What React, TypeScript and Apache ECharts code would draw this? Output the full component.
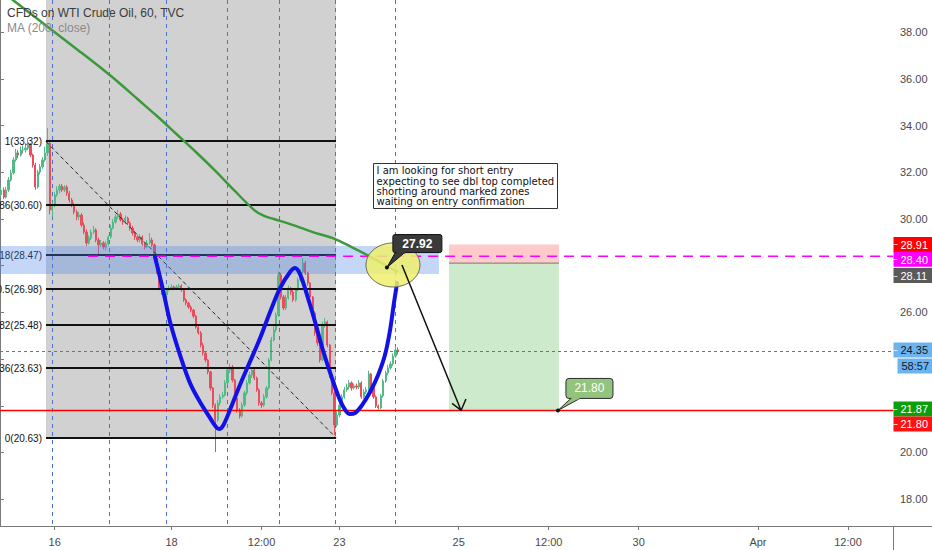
import React, { useEffect, useRef } from 'react';
import * as echarts from 'echarts';

// ---------- axes ----------
const N_SLOTS = 367;
const xLabelIndex = [22, 70, 107, 139, 188, 225, 262, 311, 348];
const xLabelText = ['16', '18', '12:00', '23', '25', '12:00', '30', 'Apr', '12:00'];
const yTicks = [18, 20, 22, 24, 26, 28, 30, 32, 34, 36, 38];
const yLabelValues = [18, 20, 26, 30, 32, 34, 36, 38];
const yRange = [16.85, 39.38];
const sessionBreaks = [21.2, 44.7, 68.4, 93.3, 114.7, 137.6, 162.3];

// ---------- hourly candles [open, close, low, high] ----------
const candles = [
  [31.05, 31.24, 30.95, 31.4], [31.24, 30.94, 30.85, 31.35], [30.94, 31.24, 30.88, 31.38], [31.24, 31.67, 31.15, 31.8],
  [31.67, 31.97, 31.6, 32.1], [31.97, 32.53, 31.9, 32.65], [32.53, 32.83, 32.45, 33.0], [32.83, 32.74, 32.6, 32.95],
  [32.74, 32.95, 32.68, 33.1], [32.95, 32.96, 32.8, 33.15], [32.96, 33.04, 32.85, 33.25], [33.04, 33.17, 32.95, 33.45],
  [33.17, 32.74, 32.65, 33.25], [32.74, 32.31, 32.2, 32.8], [32.31, 31.37, 31.25, 32.4], [31.37, 32.01, 31.3, 32.1],
  [32.01, 32.23, 31.9, 32.35], [32.23, 32.53, 32.15, 32.65], [32.53, 32.83, 32.45, 33.1], [32.83, 33.25, 32.7, 33.9],
  [33.25, 30.39, 30.2, 33.4], [30.39, 30.6, 30.1, 30.75], [30.6, 31.03, 30.5, 31.15], [31.03, 31.24, 30.95, 31.4],
  [31.24, 31.41, 31.1, 31.5], [31.41, 31.24, 31.15, 31.5], [31.24, 31.37, 31.15, 31.45], [31.37, 31.11, 31.0, 31.45],
  [31.11, 30.81, 30.7, 31.2], [30.81, 30.6, 30.5, 30.9], [30.6, 30.3, 30.2, 30.7], [30.3, 30.09, 29.95, 30.4],
  [30.09, 30.17, 29.95, 30.3], [30.17, 29.74, 29.65, 30.25], [29.74, 29.44, 29.35, 29.85], [29.44, 28.97, 28.85, 29.55],
  [28.97, 29.19, 28.9, 29.3], [29.19, 29.44, 29.1, 29.55], [29.44, 29.53, 29.35, 29.7], [29.53, 29.1, 29.0, 29.6],
  [29.1, 28.89, 28.5, 29.2], [28.89, 28.97, 28.8, 29.1], [28.97, 28.8, 28.7, 29.05], [28.8, 28.93, 28.65, 29.05],
  [28.93, 29.23, 28.85, 29.3], [29.23, 29.61, 29.15, 29.75], [29.61, 29.87, 29.55, 30.0], [29.87, 30.09, 29.8, 30.2],
  [30.09, 30.21, 30.0, 30.4], [30.21, 29.96, 29.9, 30.3], [29.96, 29.87, 29.75, 30.05], [29.87, 30.04, 29.8, 30.15],
  [30.04, 29.83, 29.75, 30.1], [29.83, 29.61, 29.5, 29.9], [29.61, 29.4, 29.3, 29.7], [29.4, 29.23, 29.1, 29.5],
  [29.23, 29.1, 29.0, 29.3], [29.1, 29.23, 29.0, 29.35], [29.23, 28.93, 28.85, 29.3], [28.93, 28.8, 28.7, 29.0],
  [28.8, 28.97, 28.75, 29.1], [28.97, 29.1, 28.9, 29.4], [29.1, 28.89, 28.8, 29.2], [28.89, 28.33, 28.25, 28.95],
  [28.33, 27.73, 27.65, 28.4], [27.73, 27.04, 26.95, 27.8], [27.04, 26.87, 26.75, 27.1], [26.87, 26.75, 26.65, 26.95],
  [26.75, 26.96, 26.7, 27.05], [26.96, 27.04, 26.9, 27.15], [27.04, 27.09, 26.95, 27.2], [27.09, 27.04, 26.95, 27.15],
  [27.04, 27.09, 26.98, 27.18], [27.09, 27.13, 27.0, 27.22], [27.13, 26.96, 26.88, 27.2], [26.96, 26.53, 26.45, 27.0],
  [26.53, 26.4, 26.3, 26.6], [26.4, 26.23, 26.15, 26.45], [26.23, 26.1, 26.0, 26.3], [26.1, 25.84, 25.75, 26.15],
  [25.84, 25.37, 25.3, 25.9], [25.37, 25.12, 25.05, 25.45], [25.12, 24.6, 24.5, 25.2], [24.6, 24.26, 24.15, 24.7],
  [24.26, 23.96, 23.85, 24.3], [23.96, 23.45, 23.35, 24.0], [23.45, 22.76, 22.65, 23.5], [22.76, 22.03, 21.9, 22.8],
  [22.03, 21.39, 20.02, 22.1], [21.39, 22.12, 21.3, 22.25], [22.12, 22.38, 22.0, 22.5], [22.38, 22.46, 22.3, 22.6],
  [22.46, 22.98, 22.4, 23.1], [22.98, 23.53, 22.9, 23.65], [23.53, 23.66, 23.4, 23.8], [23.66, 23.1, 23.0, 23.75],
  [23.1, 22.33, 22.25, 23.15], [22.33, 21.82, 21.7, 22.4], [21.82, 21.56, 21.45, 21.9], [21.56, 22.03, 21.5, 22.15],
  [22.03, 22.55, 21.95, 22.65], [22.55, 22.98, 22.45, 23.1], [22.98, 23.32, 22.9, 23.45], [23.32, 23.53, 23.2, 23.65],
  [23.53, 23.19, 23.1, 23.6], [23.19, 22.68, 22.6, 23.25], [22.68, 22.12, 22.0, 22.75], [22.12, 22.03, 21.9, 22.2],
  [22.03, 22.38, 21.95, 22.5], [22.38, 22.76, 22.3, 22.85], [22.76, 23.96, 22.7, 24.05], [23.96, 24.82, 23.9, 24.95],
  [24.82, 25.25, 24.75, 25.4], [25.25, 25.89, 25.15, 26.0], [25.89, 27.6, 25.8, 27.75], [27.6, 26.66, 26.55, 27.7],
  [26.66, 26.19, 26.1, 26.75], [26.19, 26.62, 26.1, 26.75], [26.62, 27.04, 26.55, 27.15], [27.04, 26.87, 26.75, 27.1],
  [26.87, 26.53, 26.45, 26.95], [26.53, 26.96, 26.45, 27.05], [26.96, 27.39, 26.9, 27.5], [27.39, 27.73, 27.3, 27.85],
  [27.73, 28.12, 27.65, 28.33], [28.12, 27.69, 27.6, 28.2], [27.69, 27.26, 27.15, 27.75], [27.26, 26.66, 26.55, 27.3],
  [26.66, 25.97, 25.85, 26.7], [25.97, 25.12, 25.0, 26.05], [25.12, 24.69, 24.55, 25.2], [24.69, 23.96, 23.85, 24.75],
  [23.96, 25.46, 23.9, 25.6], [25.46, 25.59, 25.35, 25.75], [25.59, 24.6, 24.5, 25.65], [24.6, 23.32, 23.2, 24.65],
  [23.32, 22.55, 22.45, 23.4], [22.55, 21.18, 20.75, 22.6], [21.18, 21.6, 21.1, 21.75], [21.6, 22.03, 21.5, 22.15],
  [22.03, 22.38, 21.95, 22.5], [22.38, 22.68, 22.3, 22.8], [22.68, 22.8, 22.6, 22.95], [22.8, 22.98, 22.7, 23.1],
  [22.98, 22.76, 22.65, 23.05], [22.76, 22.85, 22.7, 22.95], [22.85, 22.8, 22.7, 22.95], [22.8, 22.98, 22.72, 23.1],
  [22.98, 22.38, 22.3, 23.05], [22.38, 22.59, 22.3, 22.7], [22.59, 22.68, 22.5, 22.8], [22.68, 23.36, 22.6, 23.5],
  [23.36, 22.8, 22.7, 23.4], [22.8, 22.38, 22.3, 22.85], [22.38, 21.99, 21.9, 22.45], [21.99, 21.91, 21.85, 22.05],
  [21.91, 22.42, 21.85, 22.5], [22.42, 23.06, 22.35, 23.15], [23.06, 23.4, 22.98, 23.5], [23.4, 23.62, 23.3, 23.75],
  [23.62, 23.79, 23.55, 23.9], [23.79, 24.13, 23.7, 24.25], [24.13, 24.39, 24.05, 24.55], [24.39, 24.35, 24.2, 24.5],
];

// ---------- MA(200) [candle index, value] ----------
const maPoints = [
  [0, 39.77], [8, 39.12], [16, 38.48], [24, 37.84], [32, 37.2], [40, 36.55], [48, 35.87], [56, 35.14],
  [64, 34.41], [72, 33.64], [80, 32.87], [88, 32.06], [96, 31.2], [104, 30.38], [108, 30.13], [112, 30.0],
  [120, 29.74], [128, 29.44], [136, 29.19], [144, 28.8], [152, 28.37], [160, 27.9], [163, 27.73],
];

// ---------- Fibonacci retracement ----------
const fibLevels = ['1', '0.786', '0.618', '0.5', '0.382', '0.236', '0'];
const fibPrices = [33.32, 30.6, 28.47, 26.98, 25.48, 23.63, 20.63];
const fibRangeX = [18.9, 138.1];
const fibDiagonal = [[18.9, 33.32], [138.1, 20.63]];
const grayRectX = [18.9, 138.1];
const grayRectPrice = [20.63, 40.5];

// ---------- hand drawn W pattern [x slot, price] ----------
const patternPoints = [
  [63.7, 28.37], [67.0, 26.96], [69.9, 25.59], [74.0, 24.17], [78.1, 22.97], [82.2, 22.16], [86.3, 21.48],
  [88.8, 21.09], [90.0, 21.0], [91.6, 21.13], [94.5, 21.82], [98.6, 22.89], [102.7, 23.88], [106.9, 24.9],
  [111.0, 26.02], [115.1, 27.04], [119.2, 27.73], [121.2, 27.9], [123.3, 27.64], [126.2, 26.74], [129.5, 25.59],
  [132.7, 24.39], [136.4, 23.19], [139.7, 22.25], [142.2, 21.77], [143.8, 21.65], [145.9, 21.69], [148.8, 22.03],
  [152.1, 22.59], [155.4, 23.32], [158.2, 24.17], [160.3, 25.24], [161.9, 26.4], [163.2, 27.26],
];

// ---------- zones & levels ----------
const blueZoneX = [-5, 180.4];
const blueZonePrice = [28.84, 27.64];
const positionX = [184.5, 229.7];
const positionPrices = [28.91, 28.11, 21.8];
const magentaLevel = 28.4;
const magentaStartX = 36.2;
const targetLevel = 21.8;
const lastPrice = 24.35;

// ---------- annotations ----------
const arrowShaft = [[165.2, 28.03], [189.5, 21.8]];
const arrowHead = [[185.8, 22.1], [189.5, 21.8], [191.5, 22.29]];
const ellipseCenter = [161.5, 28.03];
const callout1Anchor = [159.0, 27.92];
const callout1Text = '27.92';
const callout2Anchor = [229.3, 21.8];
const callout2Text = '21.80';
const noteAnchor = [153.3, 32.4];
const noteLines = [
  'I am looking for short entry',
  'expecting to see dbl top completed',
  'shorting around marked zones',
  'waiting on entry confirmation',
];

// ---------- price scale labels ----------
const axisBoxPrice = [28.91, 28.4, 28.11, 24.35, 24.35, 21.87, 21.8];
const axisBoxText = ['28.91', '28.40', '28.11', '24.35', '58:57', '21.87', '21.80'];
const axisBoxFill = ['#ff0000', '#ff00ff', '#5a5a5a', '#6cb4f0', '#6cb4f0', '#0c9e0c', '#ff1111'];
const axisBoxInk = ['#ffffff', '#ffffff', '#ffffff', '#131722', '#131722', '#ffffff', '#ffffff'];
const axisBoxShift = [0, 3, 12.4, -1, 15, 0.2, 13.5];
const axisBoxInset = [0, 0, 0, 0, 4, 0, 0];

const NARROW = "'Liberation Sans Narrow', 'Liberation Sans', Arial, sans-serif";
const SANS = "'Liberation Sans', Arial, sans-serif";

function txt(text: string, x: number, y: number, font: string, fill: string, align: string, valign = 'middle') {
  return {
    type: 'text',
    style: { text, x, y, font, fill, align, textAlign: align, verticalAlign: valign, textVerticalAlign: valign },
  };
}

export default function App() {
  const ref = useRef<HTMLDivElement>(null);

  useEffect(() => {
    if (!ref.current) return;
    document.body.style.margin = '0';
    const chart = echarts.init(ref.current, undefined, { renderer: 'svg' });

    const categories: string[] = new Array(N_SLOTS).fill('');
    xLabelIndex.forEach((idx, k) => { categories[idx] = xLabelText[k]; });
    const showLabel = (_i: number, v: string) => v !== '';

    const yTop = yRange[1];
    const yBottom = yRange[0];

    const option: any = {
      animation: false,
      backgroundColor: '#ffffff',
      grid: { left: 0, right: 39, top: 0, bottom: 24, containLabel: false },
      xAxis: [
        {
          type: 'category',
          data: categories,
          boundaryGap: true,
          axisLine: { show: true, lineStyle: { color: '#7a7a7a', width: 1 } },
          axisTick: { show: true, alignWithLabel: true, interval: showLabel, length: 4, lineStyle: { color: '#7a7a7a' } },
          axisLabel: { interval: showLabel, color: '#4a4a4a', fontSize: 11, fontFamily: NARROW, margin: 10 },
          splitLine: { show: false },
        },
        { type: 'value', min: 0, max: N_SLOTS, show: false, splitLine: { show: false } },
      ],
      yAxis: {
        type: 'value',
        position: 'right',
        min: yRange[0],
        max: yRange[1],
        splitLine: { show: false },
        axisLine: { show: true, lineStyle: { color: '#7a7a7a', width: 1 } },
        axisTick: { show: true, length: 4, customValues: yTicks, lineStyle: { color: '#7a7a7a' } },
        axisLabel: {
          customValues: yLabelValues,
          formatter: (v: number) => v.toFixed(2),
          color: '#4a4a4a',
          fontSize: 11,
          fontFamily: NARROW,
          margin: 7,
        },
      },
      graphic: [
        { type: 'text', z: 20, left: 7, top: 7, style: { text: 'CFDs on WTI Crude Oil, 60, TVC', fill: '#3c3c3c', font: `500 12px ${NARROW}` } },
        { type: 'text', z: 20, left: 7, top: 22, style: { text: 'MA (200, close)', fill: '#8a8a8a', font: `12px ${NARROW}` } },
        { type: 'line', z: 20, shape: { x1: 893, y1: 526.5, x2: 932, y2: 526.5 }, style: { stroke: '#7a7a7a', lineWidth: 1 } },
        { type: 'line', z: 20, shape: { x1: 893.5, y1: 526, x2: 893.5, y2: 550 }, style: { stroke: '#7a7a7a', lineWidth: 1 } },
      ],
      series: [
        // gray range + session breaks
        {
          type: 'custom', xAxisIndex: 1, z: 1, clip: true, silent: true, data: [[0, 30]],
          renderItem: (_p: any, api: any) => {
            const a = api.coord([grayRectX[0], grayRectPrice[1]]);
            const b = api.coord([grayRectX[1], grayRectPrice[0]]);
            const children: any[] = [
              { type: 'rect', shape: { x: a[0], y: a[1], width: b[0] - a[0], height: b[1] - a[1] }, style: { fill: '#d1d1d1' } },
            ];
            sessionBreaks.forEach((u) => {
              const t = api.coord([u, yTop]);
              const btm = api.coord([u, yBottom]);
              const x = Math.round(t[0]) + 0.5;
              children.push({ type: 'line', shape: { x1: x, y1: t[1], x2: x, y2: btm[1] }, style: { stroke: '#4d6fdc', lineWidth: 1, lineDash: [4, 4] } });
            });
            return { type: 'group', children };
          },
        },
        // short position zones
        {
          type: 'custom', xAxisIndex: 1, z: 1, silent: true, data: [[0, 30]],
          renderItem: (_p: any, api: any) => {
            const t = api.coord([positionX[0], positionPrices[0]]);
            const m = api.coord([positionX[1], positionPrices[1]]);
            const b = api.coord([positionX[1], positionPrices[2]]);
            return {
              type: 'group',
              children: [
                { type: 'rect', shape: { x: t[0], y: t[1], width: m[0] - t[0], height: m[1] - t[1] }, style: { fill: 'rgba(255,90,90,0.32)' } },
                { type: 'rect', shape: { x: t[0], y: m[1], width: m[0] - t[0], height: b[1] - m[1] }, style: { fill: 'rgba(90,185,90,0.3)' } },
                { type: 'line', shape: { x1: t[0], y1: m[1], x2: m[0], y2: m[1] }, style: { stroke: '#777', lineWidth: 1 } },
              ],
            };
          },
        },
        // candles
        {
          type: 'candlestick',
          xAxisIndex: 0,
          z: 3,
          barWidth: '72%',
          data: candles,
          itemStyle: {
            color: '#53b987', color0: '#eb4d5c', borderColor: '#53b987', borderColor0: '#eb4d5c', borderColorDoji: '#53b987', borderWidth: 1,
          },
        },
        // fib lines, labels, diagonal
        {
          type: 'custom', xAxisIndex: 1, z: 4, silent: true, data: [[0, 30]],
          renderItem: (_p: any, api: any) => {
            const children: any[] = [];
            fibPrices.forEach((p, k) => {
              const a = api.coord([fibRangeX[0], p]);
              const b = api.coord([fibRangeX[1], p]);
              const y = Math.round(a[1]);
              children.push({ type: 'line', shape: { x1: a[0], y1: y, x2: b[0], y2: y }, style: { stroke: '#111', lineWidth: 2 } });
              children.push(txt(`${fibLevels[k]}(${p.toFixed(2)})`, a[0] - 4, y, `10px ${SANS}`, '#111', 'right'));
            });
            const d1 = api.coord(fibDiagonal[0]);
            const d2 = api.coord(fibDiagonal[1]);
            children.push({ type: 'line', shape: { x1: d1[0], y1: d1[1], x2: d2[0], y2: d2[1] }, style: { stroke: '#222', lineWidth: 1, lineDash: [4, 3] } });
            return { type: 'group', children };
          },
        },
        // blue resistance zone
        {
          type: 'custom', xAxisIndex: 1, z: 5, clip: true, silent: true, data: [[0, 30]],
          renderItem: (_p: any, api: any) => {
            const a = api.coord([blueZoneX[0], blueZonePrice[0]]);
            const b = api.coord([blueZoneX[1], blueZonePrice[1]]);
            return { type: 'rect', shape: { x: a[0], y: a[1], width: b[0] - a[0], height: b[1] - a[1] }, style: { fill: 'rgba(70,130,235,0.32)' } };
          },
        },
        // MA 200
        {
          type: 'line', xAxisIndex: 0, z: 6, data: maPoints, smooth: 0.3, showSymbol: false, silent: true,
          lineStyle: { color: '#3a9a3a', width: 2.5 },
        },
        // horizontal levels
        {
          type: 'custom', xAxisIndex: 1, z: 6, silent: true, data: [[0, 30]],
          renderItem: (_p: any, api: any) => {
            const m1 = api.coord([magentaStartX, magentaLevel]);
            const m2 = api.coord([N_SLOTS, magentaLevel]);
            const r1 = api.coord([0, targetLevel]);
            const r2 = api.coord([N_SLOTS, targetLevel]);
            const l1 = api.coord([0, lastPrice]);
            const l2 = api.coord([N_SLOTS, lastPrice]);
            return {
              type: 'group',
              children: [
                { type: 'line', shape: { x1: l1[0], y1: Math.round(l1[1]) + 0.5, x2: l2[0], y2: Math.round(l2[1]) + 0.5 }, style: { stroke: '#1e88e5', lineWidth: 1, lineDash: [3, 3] } },
                { type: 'line', shape: { x1: m1[0], y1: m1[1], x2: m2[0], y2: m2[1] }, style: { stroke: '#ff00ff', lineWidth: 1.5, lineDash: [10, 7] } },
                { type: 'line', shape: { x1: r1[0], y1: r1[1], x2: r2[0], y2: r2[1] }, style: { stroke: '#ff0000', lineWidth: 1.6 } },
              ],
            };
          },
        },
        // W pattern
        {
          type: 'line', xAxisIndex: 1, z: 7, data: patternPoints, smooth: 0.35, showSymbol: false, silent: true,
          lineStyle: { color: '#1212e8', width: 4, cap: 'round', join: 'round' },
        },
        // annotations
        {
          type: 'custom', xAxisIndex: 1, z: 8, silent: true, data: [[0, 30]],
          renderItem: (_p: any, api: any) => {
            const children: any[] = [];
            const ec = api.coord(ellipseCenter);
            children.push({ type: 'ellipse', shape: { cx: ec[0], cy: ec[1], rx: 27, ry: 22 }, style: { fill: 'rgba(240,240,110,0.85)', stroke: '#6b6b55', lineWidth: 1 } });
            const s1 = api.coord(arrowShaft[0]);
            const s2 = api.coord(arrowShaft[1]);
            children.push({ type: 'line', shape: { x1: s1[0], y1: s1[1], x2: s2[0], y2: s2[1] }, style: { stroke: '#111', lineWidth: 1.5 } });
            children.push({ type: 'polyline', shape: { points: arrowHead.map((q) => api.coord(q)) }, style: { stroke: '#111', lineWidth: 1.5, fill: 'none' } });

            // callout 27.92
            const a1 = api.coord(callout1Anchor);
            children.push({ type: 'polygon', shape: { points: [[a1[0], a1[1]], [a1[0] + 9, a1[1] - 16], [a1[0] + 19, a1[1] - 16]] }, style: { fill: '#3a3a3a', stroke: '#111', lineWidth: 1 } });
            children.push({ type: 'rect', shape: { x: a1[0] + 6, y: a1[1] - 33, width: 49, height: 18, r: 2 }, style: { fill: '#3a3a3a', stroke: '#111', lineWidth: 1 } });
            children.push({ type: 'line', shape: { x1: a1[0] + 9.5, y1: a1[1] - 15, x2: a1[0] + 18.5, y2: a1[1] - 15 }, style: { stroke: '#3a3a3a', lineWidth: 2 } });
            children.push(txt(callout1Text, a1[0] + 30.5, a1[1] - 24, `bold 12px ${SANS}`, '#ffffff', 'center'));
            children.push({ type: 'circle', shape: { cx: a1[0], cy: a1[1], r: 2 }, style: { fill: '#111' } });

            // callout 21.80
            const a2 = api.coord(callout2Anchor);
            children.push({ type: 'polygon', shape: { points: [[a2[0], a2[1]], [a2[0] + 13, a2[1] - 12], [a2[0] + 22, a2[1] - 12]] }, style: { fill: '#93c47d', stroke: '#2b2b2b', lineWidth: 1 } });
            children.push({ type: 'rect', shape: { x: a2[0] + 8, y: a2[1] - 32, width: 47, height: 20, r: 3 }, style: { fill: '#93c47d', stroke: '#2b2b2b', lineWidth: 1 } });
            children.push({ type: 'line', shape: { x1: a2[0] + 13.5, y1: a2[1] - 12, x2: a2[0] + 21.5, y2: a2[1] - 12 }, style: { stroke: '#93c47d', lineWidth: 2 } });
            children.push(txt(callout2Text, a2[0] + 31.5, a2[1] - 22, `12px ${SANS}`, '#ffffff', 'center'));
            children.push({ type: 'circle', shape: { cx: a2[0], cy: a2[1], r: 2 }, style: { fill: '#111' } });

            // note box
            const n = api.coord(noteAnchor);
            const nx = Math.round(n[0]) + 0.5;
            const ny = Math.round(n[1]) + 0.5;
            children.push({ type: 'rect', shape: { x: nx, y: ny, width: 184, height: 45 }, style: { fill: '#ffffff', stroke: '#333', lineWidth: 1 } });
            noteLines.forEach((line, k) => {
              children.push(txt(line, nx + 3, ny + 7.3 + k * 10.2, `10px 'DejaVu Sans', sans-serif`, '#111', 'left'));
            });
            return { type: 'group', children };
          },
        },
        // price scale labels
        {
          type: 'custom', xAxisIndex: 1, z: 9, clip: false, silent: true, data: [[0, 30]],
          renderItem: (_p: any, api: any) => {
            const children: any[] = [];
            axisBoxPrice.forEach((p, k) => {
              const c = api.coord([N_SLOTS, p]);
              const y = c[1] + axisBoxShift[k];
              const x0 = c[0] + 0.5 + axisBoxInset[k];
              children.push({ type: 'rect', shape: { x: x0, y: y - 7.5, width: 932 - x0, height: 15 }, style: { fill: axisBoxFill[k] } });
              if (!axisBoxInset[k]) {
                children.push({ type: 'line', shape: { x1: x0, y1: Math.round(y) + 0.5, x2: x0 + 4, y2: Math.round(y) + 0.5 }, style: { stroke: 'rgba(255,255,255,0.75)', lineWidth: 1 } });
              }
              children.push(txt(axisBoxText[k], x0 + (axisBoxInset[k] ? 4 : 7), y + 0.5, `11px ${NARROW}`, axisBoxInk[k], 'left'));
            });
            return { type: 'group', children };
          },
        },
      ],
    };

    chart.setOption(option);
    return () => chart.dispose();
  }, []);

  return <div ref={ref} style={{ position: 'absolute', left: 0, top: 0, width: 932, height: 550 }} />;
}
